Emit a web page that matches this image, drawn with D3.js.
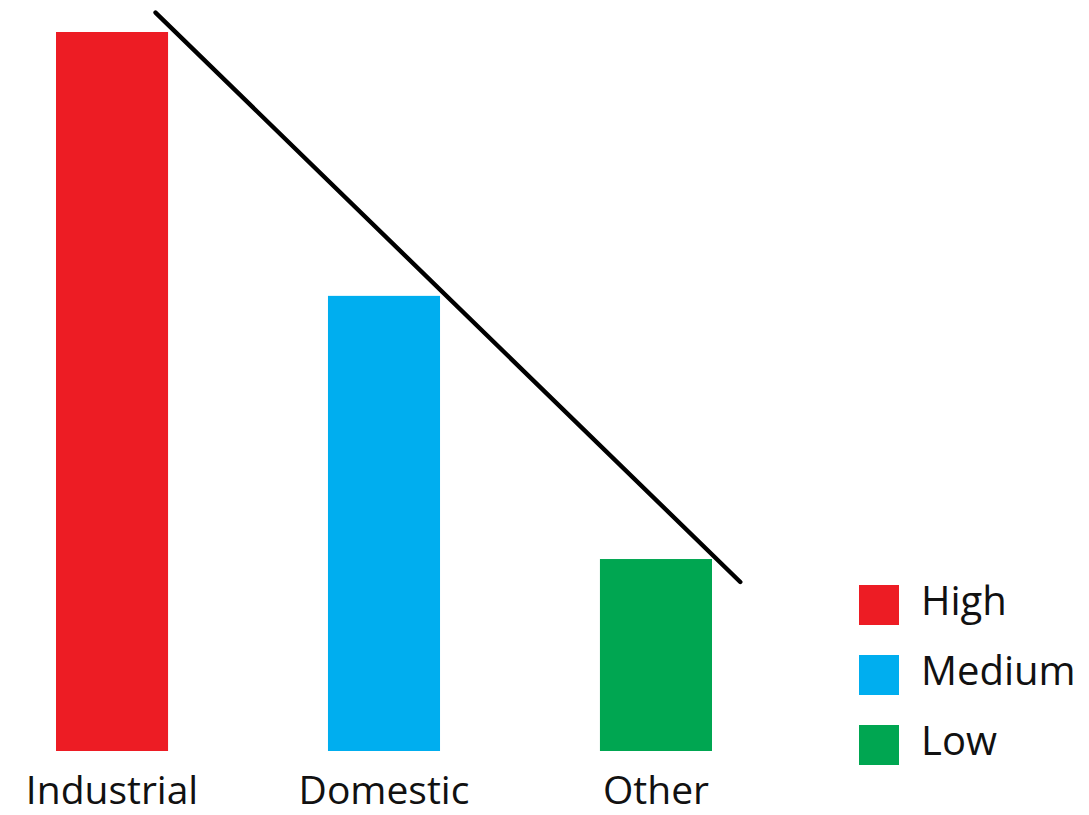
<!DOCTYPE html>
<html>
<head>
<meta charset="utf-8">
<script src="https://cdn.jsdelivr.net/npm/d3@7"></script>
<style>
  html, body { margin: 0; padding: 0; background: #fff; }
  svg { display: block; }
  text { font-family: "Open Sans", "Noto Sans", sans-serif; fill: #111; }
</style>
</head>
<body>
<svg id="chart" width="1089" height="815"></svg>
<script>
// Sectors and their relative share
const categories = ["Industrial", "Domestic", "Other"];
const values = [100, 63.3, 26.7];
const levels = ["High", "Medium", "Low"];
const colors = ["#ED1C24", "#00AEEF", "#00A651"];

// Trend line endpoints: [category index position, value]
const trendPoints = [[0.16, 102.7], [2.31, 23.5]];

const svg = d3.select("#chart");

const x = d3.scaleBand()
  .domain(categories)
  .range([56, 712])
  .paddingInner(0.588)
  .paddingOuter(0);

const y = d3.scaleLinear()
  .domain([0, 100])
  .range([751, 32]);

const color = d3.scaleOrdinal().domain(levels).range(colors);

// Continuous position along the category axis (index -> band centre)
const xPos = d3.scaleLinear()
  .domain([0, categories.length - 1])
  .range([x(categories[0]) + x.bandwidth() / 2,
          x(categories[categories.length - 1]) + x.bandwidth() / 2]);

// Bars
svg.append("g")
  .selectAll("rect")
  .data(categories)
  .join("rect")
  .attr("x", d => x(d))
  .attr("y", (d, i) => y(values[i]))
  .attr("width", x.bandwidth())
  .attr("height", (d, i) => y(0) - y(values[i]))
  .attr("fill", (d, i) => color(levels[i]));

// Category labels under the bars
const xAxis = d3.axisBottom(x).tickSize(0).tickPadding(0);
const axisG = svg.append("g")
  .attr("transform", `translate(0, ${y(0)})`)
  .call(xAxis);
axisG.select(".domain").remove();
axisG.selectAll("text")
  .attr("dy", null)
  .attr("y", 53)
  .style("font-family", '"Open Sans", "Noto Sans", sans-serif')
  .style("font-size", "39px")
  .attr("fill", "#111");

// Declining trend line
svg.append("path")
  .datum(trendPoints)
  .attr("d", d3.line().x(d => xPos(d[0])).y(d => y(d[1])))
  .attr("fill", "none")
  .attr("stroke", "#000")
  .attr("stroke-width", 4.4)
  .attr("stroke-linecap", "round");

// Legend
const legend = svg.append("g").attr("transform", "translate(859, 585)");
const item = legend.selectAll("g")
  .data(levels)
  .join("g")
  .attr("transform", (d, i) => `translate(0, ${i * 70})`);
item.append("rect")
  .attr("width", 40)
  .attr("height", 40)
  .attr("fill", d => color(d));
item.append("text")
  .attr("x", 62)
  .attr("y", 30)
  .style("font-size", "40px")
  .text(d => d);
</script>
</body>
</html>
